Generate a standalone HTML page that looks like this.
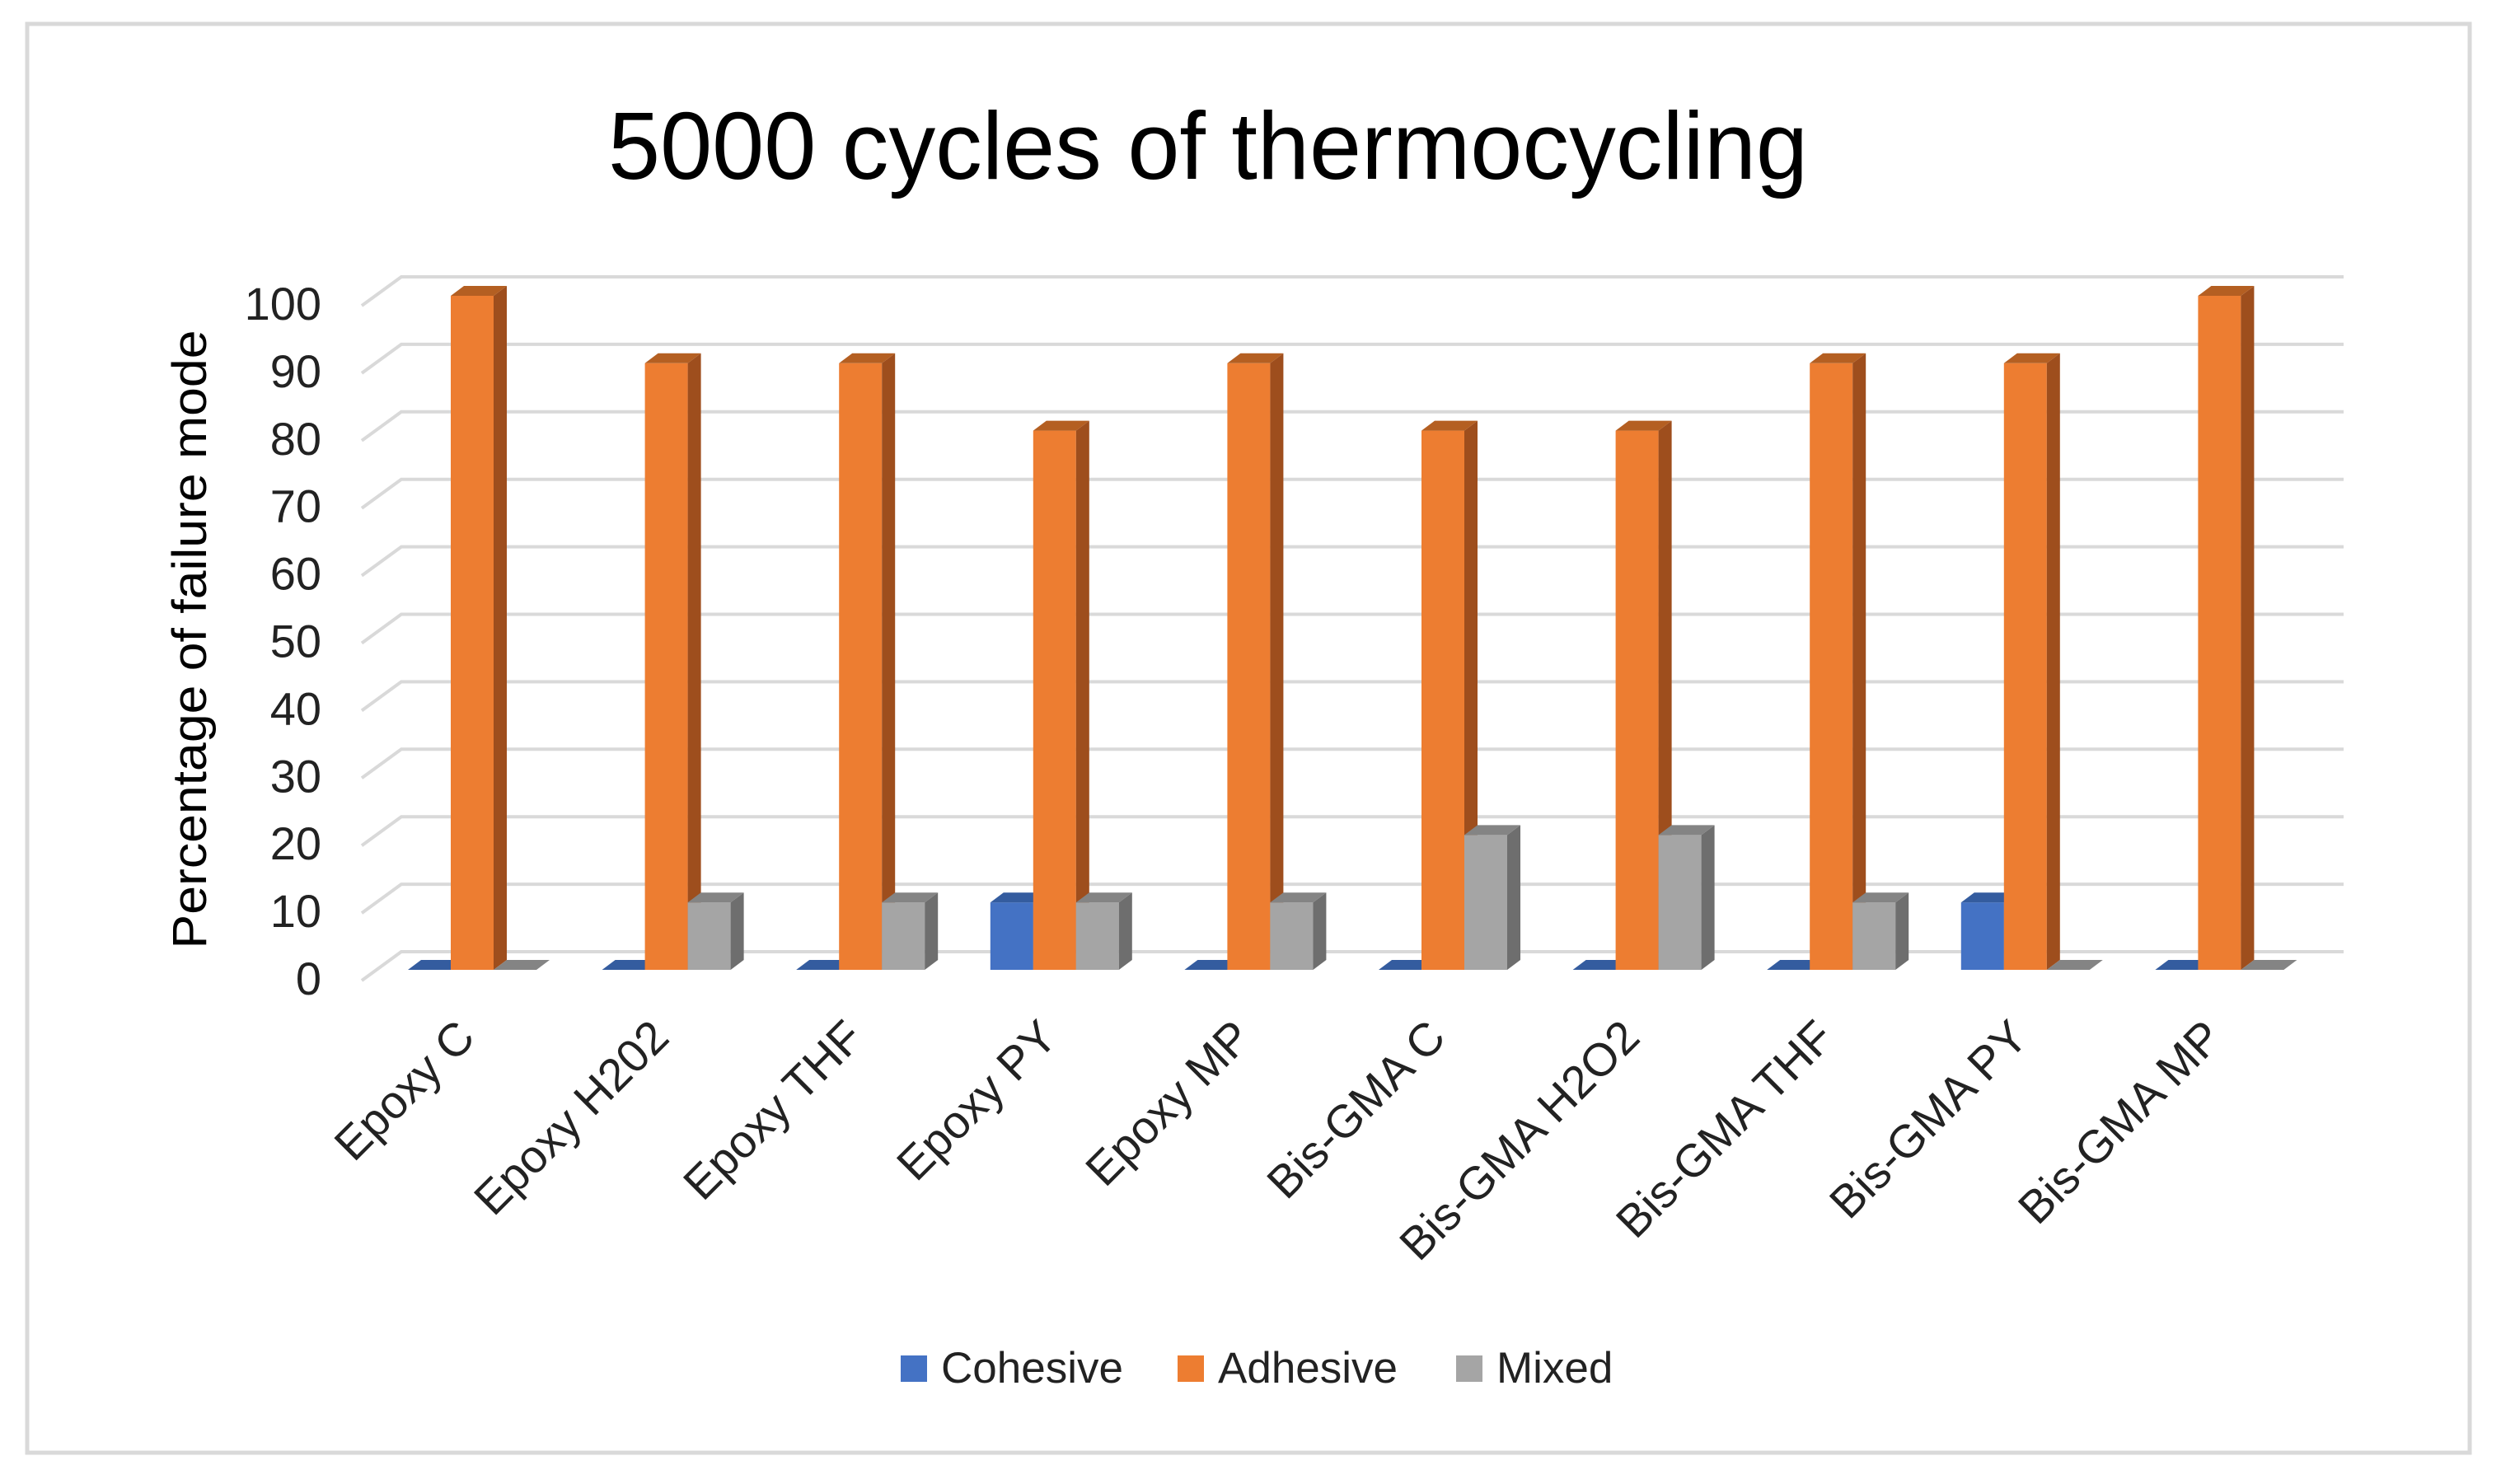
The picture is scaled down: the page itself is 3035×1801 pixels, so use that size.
<!DOCTYPE html>
<html><head><meta charset="utf-8"><style>
html,body{margin:0;padding:0;background:#fff;}
svg{display:block;font-family:"Liberation Sans",sans-serif;}
</style></head><body>
<svg id="chart" width="3035" height="1801" viewBox="0 0 3035 1801" xmlns="http://www.w3.org/2000/svg">
<rect x="33" y="29" width="2964" height="1734" fill="#fff" stroke="#d9d9d9" stroke-width="5"/>
<text x="1466" y="217" font-size="116" text-anchor="middle" textLength="1456" lengthAdjust="spacingAndGlyphs" fill="#000">5000 cycles of thermocycling</text>
<text transform="translate(250,776) rotate(-90)" font-size="58" text-anchor="middle" textLength="751" lengthAdjust="spacingAndGlyphs" fill="#000">Percentage of failure mode</text>
<g id="grid"></g><g id="yticks"></g><g id="bars"></g><g id="xlabels"></g>
<g>
<rect x="1093" y="1645" width="32" height="32" fill="#4472C4"/>
<text x="1142" y="1678" font-size="53" fill="#222">Cohesive</text>
<rect x="1429" y="1645" width="32" height="32" fill="#ED7D31"/>
<text x="1478" y="1678" font-size="53" fill="#222">Adhesive</text>
<rect x="1767" y="1645" width="32" height="32" fill="#A5A5A5"/>
<text x="1816" y="1678" font-size="53" fill="#222">Mixed</text>
</g>
</svg>
<script>
const categories = ["Epoxy C","Epoxy H202","Epoxy THF","Epoxy PY","Epoxy MP","Bis-GMA C","Bis-GMA H2O2","Bis-GMA THF","Bis-GMA PY","Bis-GMA MP"];
const cohesive = [0,0,0,10,0,0,0,0,10,0];
const adhesive = [100,90,90,80,90,80,80,90,90,100];
const mixed = [0,10,10,10,10,20,20,10,0,0];
const yTicks = [0,10,20,30,40,50,60,70,80,90,100];

const NS="http://www.w3.org/2000/svg";
function mk(tag,attrs,parent){const e=document.createElementNS(NS,tag);for(const k in attrs)e.setAttribute(k,attrs[k]);parent.appendChild(e);return e;}
const base=1177, unit=8.18;
function yv(v){return base-v*unit;}
function gx(i){return 573+i*235.6;}
const DX=16, DY=12, BW=52;

const grid=document.getElementById('grid');
const yt=document.getElementById('yticks');
yTicks.forEach(t=>{
  const yb=1155-t*8.19;
  const l=mk('polyline',{points:`439,${yb+35} 487,${yb} 2844,${yb}`,fill:'none',stroke:'#d9d9d9','stroke-width':4},grid);
  
  
  const tx=mk('text',{x:390,y:yb+52,'font-size':56,'text-anchor':'end',fill:'#222'},yt);
  tx.textContent=t;
  
  
});

const series=[
 {name:'cohesive',vals:cohesive,front:'#4472C4',side:'#2F528F',top:'#345C9F',off:-BW},
 {name:'adhesive',vals:adhesive,front:'#ED7D31',side:'#9E4E1D',top:'#B45F22',off:0},
 {name:'mixed',vals:mixed,front:'#A5A5A5',side:'#6E6E6E',top:'#848484',off:BW}
];
const bars=document.getElementById('bars');
categories.forEach((c,i)=>{
  series.forEach(s=>{
    const v=s.vals[i];
    const x0=gx(i)-BW/2+s.off, x1=x0+BW, yt2=yv(v);
    const g=mk('g',{},bars);
    
    
    if(v>0){
      mk('rect',{x:x0,y:yt2,width:BW,height:base-yt2,fill:s.front},g);
      mk('polygon',{points:`${x1},${yt2} ${x1+DX},${yt2-DY} ${x1+DX},${base-DY} ${x1},${base}`,fill:s.side},g);
    }
    mk('polygon',{points:`${x0},${yt2} ${x0+DX},${yt2-DY} ${x1+DX},${yt2-DY} ${x1},${yt2}`,fill:s.top},g);
  });
  const lx=gx(i)+6, ly=1262;
  const t=mk('text',{x:lx,y:ly,'font-size':56,'text-anchor':'end',fill:'#222',transform:`rotate(-45 ${lx} ${ly})`},document.getElementById('xlabels'));
  t.textContent=c;
  
  
});
</script>
</body></html>
